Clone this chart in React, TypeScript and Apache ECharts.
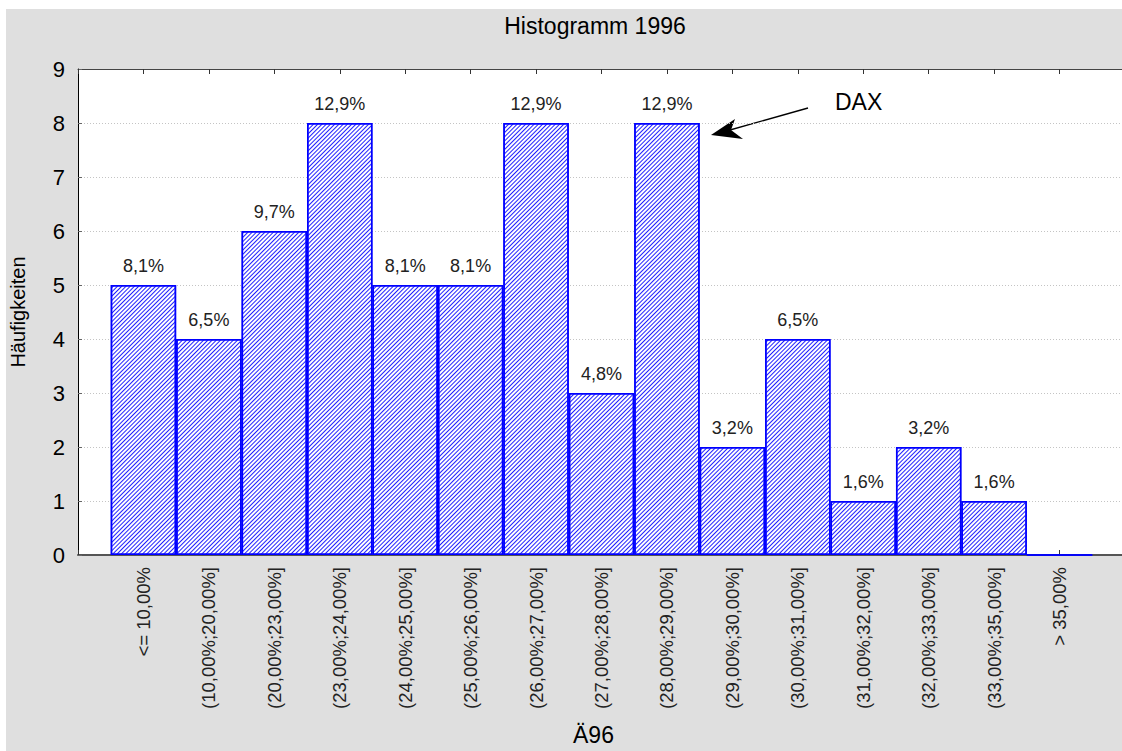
import React, { useEffect, useRef } from "react";
import * as echarts from "echarts";

const categories = [
  "<= 10,00%",
  "(10,00%;20,00%]",
  "(20,00%;23,00%]",
  "(23,00%;24,00%]",
  "(24,00%;25,00%]",
  "(25,00%;26,00%]",
  "(26,00%;27,00%]",
  "(27,00%;28,00%]",
  "(28,00%;29,00%]",
  "(29,00%;30,00%]",
  "(30,00%;31,00%]",
  "(31,00%;32,00%]",
  "(32,00%;33,00%]",
  "(33,00%;35,00%]",
  "> 35,00%",
];
const counts = [5, 4, 6, 8, 5, 5, 8, 3, 8, 2, 4, 1, 2, 1, 0];
const pctLabels = ["8,1%", "6,5%", "9,7%", "12,9%", "8,1%", "8,1%", "12,9%", "4,8%", "12,9%", "3,2%", "6,5%", "1,6%", "3,2%", "1,6%", ""];
const yMin = 0;
const yMax = 9;

const FONT = "'Liberation Sans', Arial, sans-serif";

export default function App() {
  const ref = useRef<HTMLDivElement>(null);
  useEffect(() => {
    if (!ref.current) return;
    const chart = echarts.init(ref.current, null, { renderer: "svg" });
    const axisCommon = {
      type: "value" as const,
      min: -1,
      max: 15,
      interval: 1,
    };
    chart.setOption({
      animation: false,
      backgroundColor: "transparent",
      textStyle: { fontFamily: FONT },
      title: {
        text: "Histogramm 1996",
        left: 595,
        textAlign: "center",
        top: 14,
        padding: 0,
        textStyle: { fontFamily: FONT, fontSize: 23, fontWeight: "normal", color: "#000" },
      },
      grid: {
        left: 78,
        top: 69,
        width: 1047,
        height: 486,
        outerBoundsMode: "none",
        containLabel: false,
        show: true,
        backgroundColor: "#ffffff",
        borderWidth: 0,
      },
      xAxis: [
        {
          ...axisCommon,
          position: "bottom",
          name: "Ä96",
          nameLocation: "middle",
          nameGap: 168,
          nameTextStyle: { fontFamily: FONT, fontSize: 23, color: "#000", padding: [0, 16, 0, 0] },
          axisLine: { show: true, onZero: false, lineStyle: { color: "#555", width: 2 } },
          axisTick: { show: true, inside: true, length: 5, lineStyle: { color: "#333" } },
          splitLine: { show: false },
          axisLabel: {
            rotate: 90,
            margin: 12,
            fontFamily: FONT,
            fontSize: 18.5,
            color: "#222",
            showMinLabel: true,
            showMaxLabel: true,
            hideOverlap: false,
            formatter: (v: number) => (Number.isInteger(v) && categories[v] !== undefined ? categories[v] : ""),
          },
        },
        {
          ...axisCommon,
          position: "top",
          axisLine: { show: true, onZero: false, lineStyle: { color: "#444", width: 1 } },
          axisTick: { show: true, inside: true, length: 5, lineStyle: { color: "#333" } },
          axisLabel: { show: false },
          splitLine: { show: false },
        },
      ],
      yAxis: {
        type: "value",
        min: yMin,
        max: yMax,
        interval: 1,
        name: "Häufigkeiten",
        nameLocation: "middle",
        nameGap: 50,
        nameRotate: 90,
        nameTextStyle: { fontFamily: FONT, fontSize: 20, color: "#000" },
        axisLine: { show: true, onZero: false, lineStyle: { color: "#000", width: 1 } },
        axisTick: { show: true, inside: true, length: 4, lineStyle: { color: "#666" } },
        axisLabel: { margin: 13, fontFamily: FONT, fontSize: 22, color: "#000" },
        splitLine: { show: true, lineStyle: { color: "#c4c4c4", type: [1, 2], width: 1 } },
      },
      series: [
        {
          type: "bar",
          xAxisIndex: 0,
          barWidth: "100%",
          data: counts.map((v, i) => [i, v]),
          itemStyle: {
            color: "#ffffff",
            borderColor: "#0000ff",
            borderWidth: 1.5,
            decal: {
              symbol: "rect",
              symbolSize: 1,
              color: "#2020ff",
              dashArrayX: [1, 0],
              dashArrayY: [1, 2],
              rotation: -Math.PI / 4,
            },
          },
          label: {
            show: true,
            position: "top",
            distance: 10,
            fontFamily: FONT,
            fontSize: 18,
            color: "#222",
            formatter: (p: any) => pctLabels[p.dataIndex],
          },
        },
      ],
      graphic: [
        {
          type: "text",
          x: 835,
          y: 90,
          style: { text: "DAX", fontFamily: FONT, fontSize: 23, fill: "#000" },
        },
        {
          type: "line",
          shape: { x1: 808, y1: 108, x2: 730, y2: 130 },
          style: { stroke: "#000", lineWidth: 1.3 },
        },
        {
          type: "polygon",
          shape: { points: [[711, 135], [735, 119], [731, 130], [743, 139]] },
          style: { fill: "#000" },
        },
      ],
    });
    return () => chart.dispose();
  }, []);
  return (
    <div
      style={{
        position: "fixed",
        left: 0,
        top: 0,
        width: 1122,
        height: 751,
        background: "linear-gradient(#dfdfdf,#dfdfdf) 6px 9px / 1116px 742px no-repeat, #ffffff",
      }}
    >
      <div ref={ref} style={{ width: 1122, height: 751 }} />
    </div>
  );
}
